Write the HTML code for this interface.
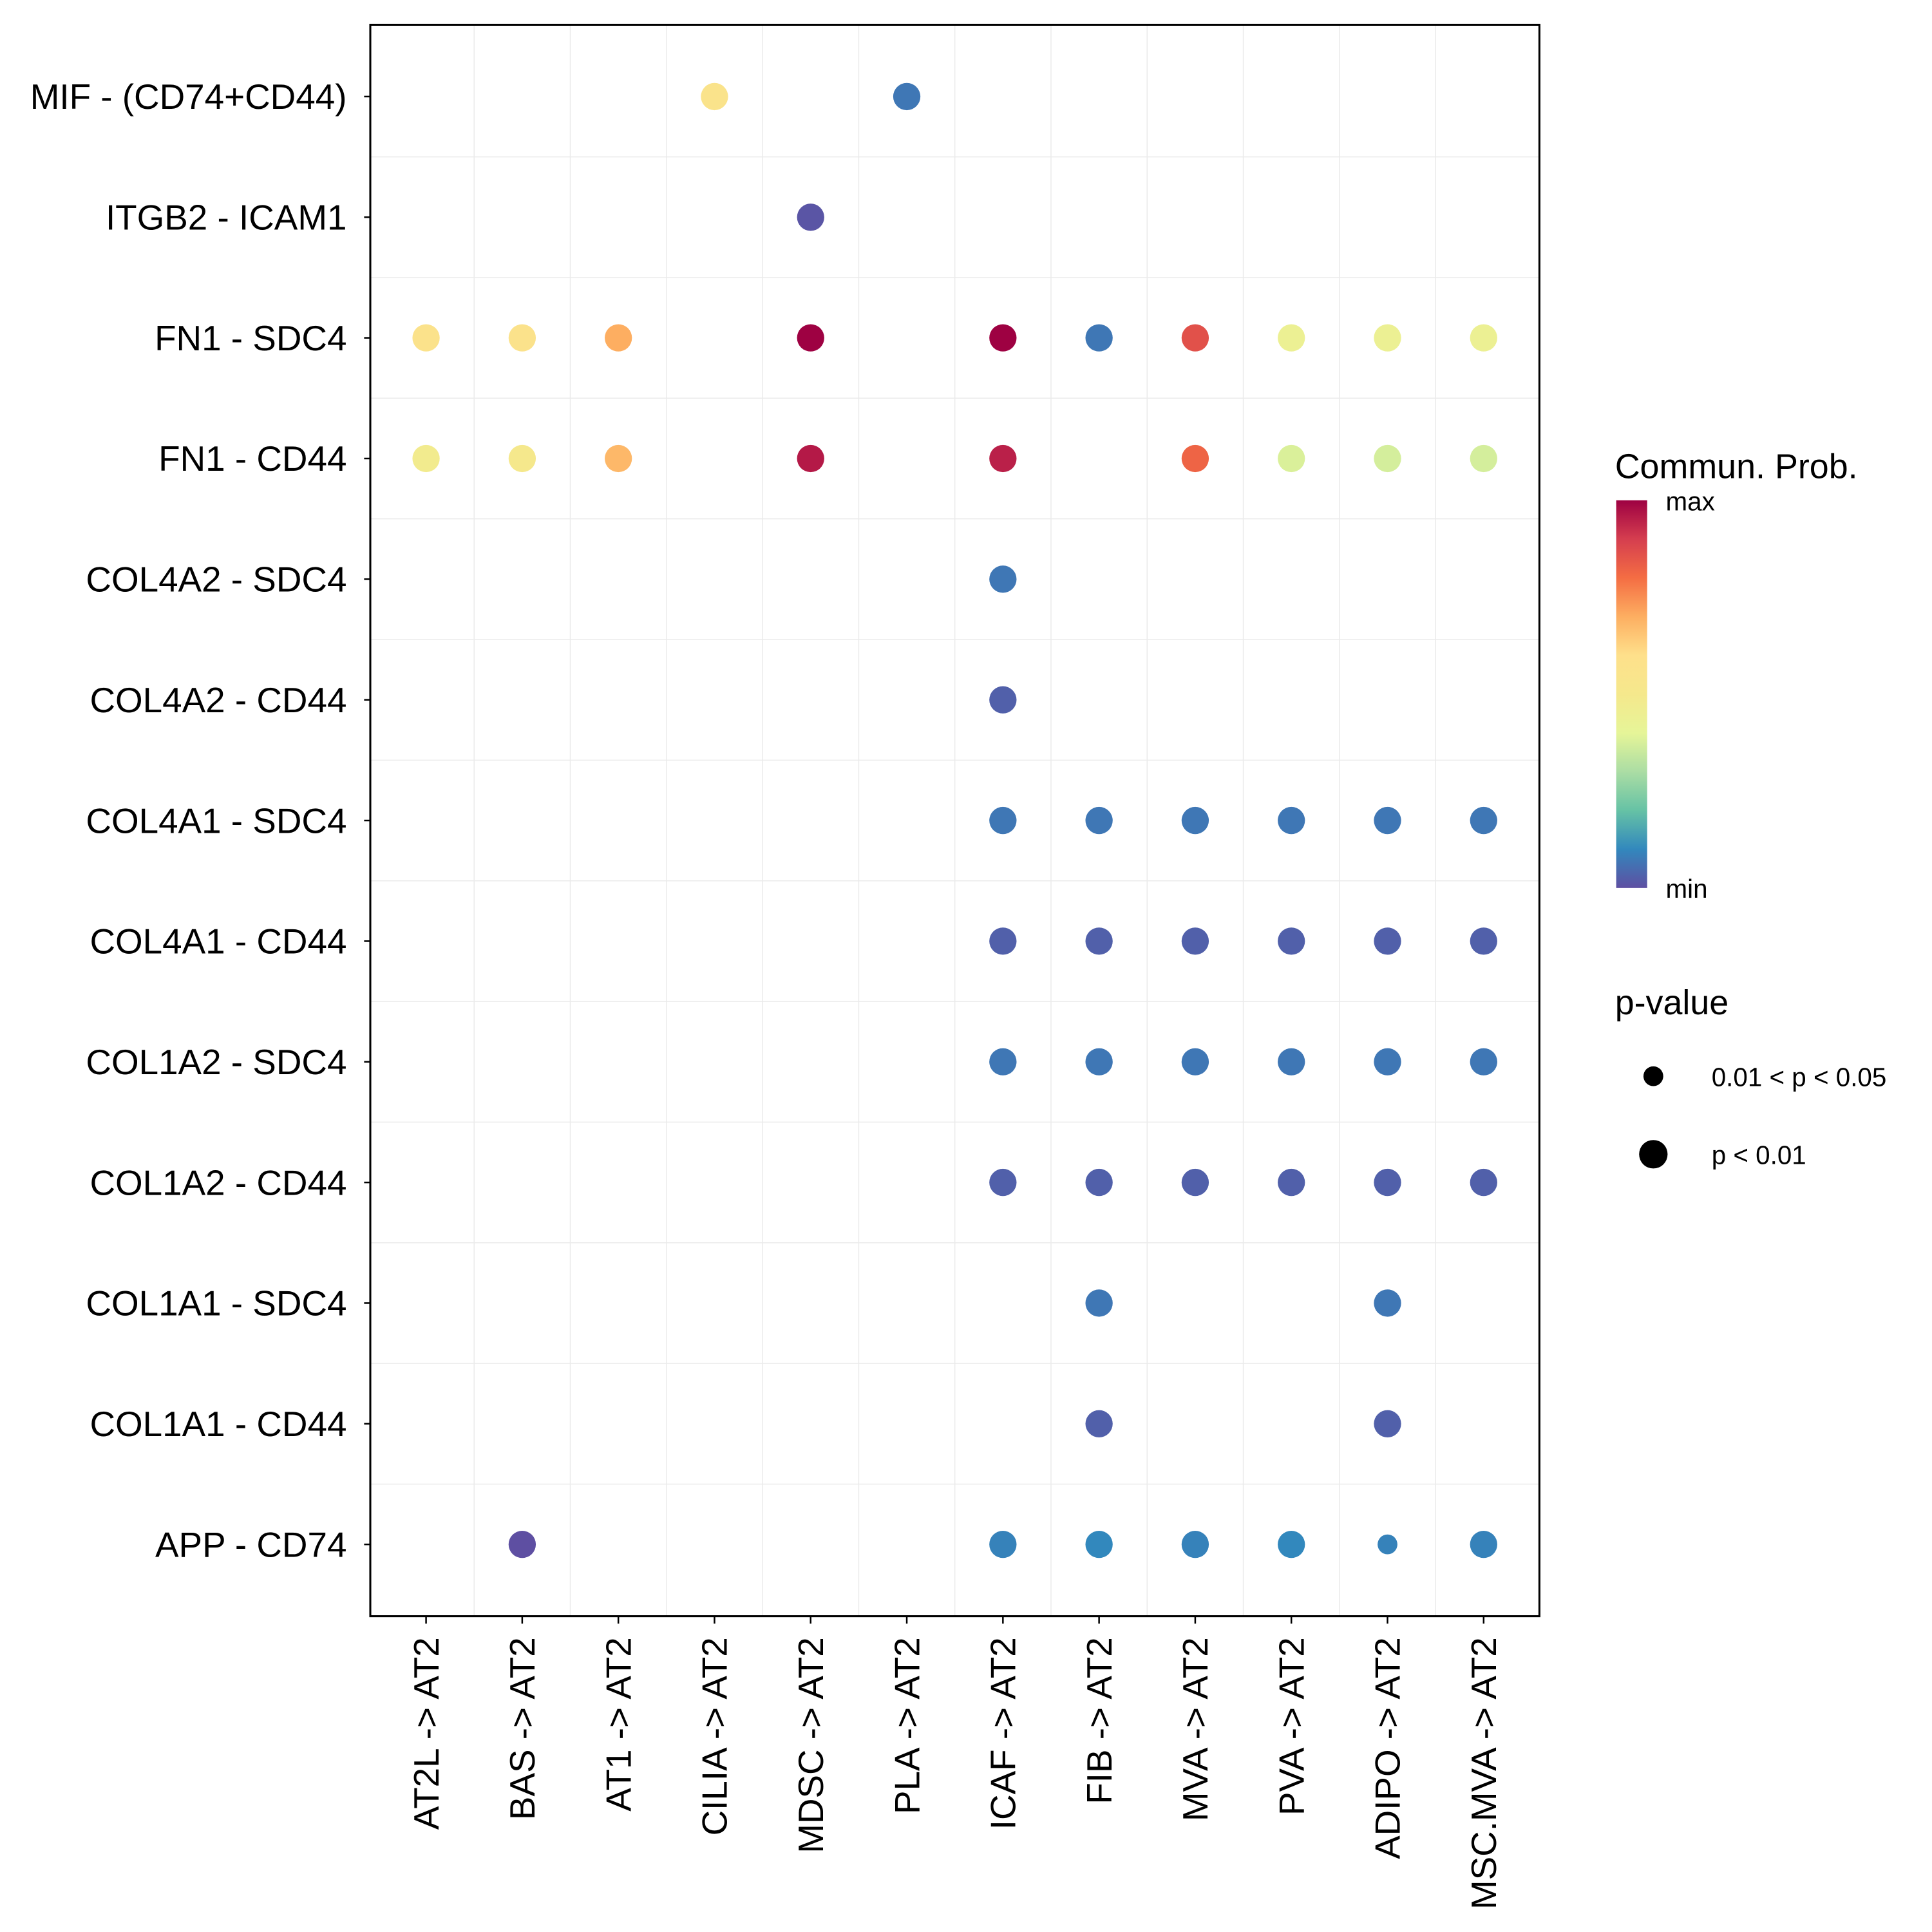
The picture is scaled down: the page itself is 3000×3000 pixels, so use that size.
<!DOCTYPE html>
<html><head><meta charset="utf-8"><style>html,body{margin:0;padding:0;background:#fff}svg{display:block}</style></head>
<body>
<svg id="chart" width="3000" height="3000" viewBox="0 0 1560 1560" xmlns="http://www.w3.org/2000/svg" font-family="Liberation Sans, sans-serif">
<defs><linearGradient id="cg" x1="0" y1="1" x2="0" y2="0">
<stop offset="0" stop-color="#5E4FA2"/><stop offset="0.1" stop-color="#3288BD"/><stop offset="0.2" stop-color="#66C2A5"/><stop offset="0.3" stop-color="#ABDDA4"/><stop offset="0.4" stop-color="#E6F598"/><stop offset="0.5" stop-color="#F5E88C"/><stop offset="0.6" stop-color="#FEE08B"/><stop offset="0.7" stop-color="#FDAE61"/><stop offset="0.8" stop-color="#F46D43"/><stop offset="0.9" stop-color="#D53E4F"/><stop offset="1" stop-color="#9E0142"/></linearGradient></defs>
<g id="grid"></g><g id="marks"></g><g id="axes"></g>
<g id="legend">
<text x="1304" y="386" font-size="28">Commun. Prob.</text>
<rect x="1305" y="404" width="25" height="313" fill="url(#cg)"/>
<text x="1345" y="412" font-size="21">max</text>
<text x="1345" y="725" font-size="21">min</text>
<text x="1304" y="819" font-size="28">p-value</text>
<circle cx="1335" cy="869" r="8" fill="#000"/>
<text x="1382" y="877" font-size="21">0.01 &lt; p &lt; 0.05</text>
<circle cx="1335" cy="932" r="11.5" fill="#000"/>
<text x="1382" y="940" font-size="21">p &lt; 0.01</text>
</g>
</svg>
<script>
const rows = ["MIF - (CD74+CD44)","ITGB2 - ICAM1","FN1 - SDC4","FN1 - CD44","COL4A2 - SDC4","COL4A2 - CD44","COL4A1 - SDC4","COL4A1 - CD44","COL1A2 - SDC4","COL1A2 - CD44","COL1A1 - SDC4","COL1A1 - CD44","APP - CD74"];
const cols = ["AT2L -> AT2","BAS -> AT2","AT1 -> AT2","CILIA -> AT2","MDSC -> AT2","PLA -> AT2","ICAF -> AT2","FIB -> AT2","MVA -> AT2","PVA -> AT2","ADIPO -> AT2","MSC.MVA -> AT2"];
const pointRow = [0,0, 1, 2,2,2,2,2,2,2,2,2,2, 3,3,3,3,3,3,3,3,3, 4,5, 6,6,6,6,6,6, 7,7,7,7,7,7, 8,8,8,8,8,8, 9,9,9,9,9,9, 10,10, 11,11, 12,12,12,12,12,12,12];
const pointCol = [3,5, 4, 0,1,2,4,6,7,8,9,10,11, 0,1,2,4,6,8,9,10,11, 6,6, 6,7,8,9,10,11, 6,7,8,9,10,11, 6,7,8,9,10,11, 6,7,8,9,10,11, 7,10, 7,10, 1,6,7,8,9,10,11];
const pointValue = [0.56,0.07, 0.01, 0.57,0.57,0.7,1.0,1.0,0.07,0.86,0.44,0.44,0.44, 0.48,0.5,0.68,0.96,0.95,0.82,0.38,0.37,0.37, 0.07,0.03, 0.07,0.07,0.07,0.07,0.07,0.07, 0.03,0.03,0.03,0.03,0.03,0.03, 0.07,0.07,0.07,0.07,0.07,0.07, 0.03,0.03,0.03,0.03,0.03,0.03, 0.07,0.07, 0.03,0.03, 0.0,0.09,0.1,0.09,0.1,0.09,0.09];
const pointSig = [1,1, 1, 1,1,1,1,1,1,1,1,1,1, 1,1,1,1,1,1,1,1,1, 1,1, 1,1,1,1,1,1, 1,1,1,1,1,1, 1,1,1,1,1,1, 1,1,1,1,1,1, 1,1, 1,1, 1,1,1,1,1,0,1];

const NS="http://www.w3.org/2000/svg";
const L=299,R=1243,T=20,B=1305;
const xs=i=>L+(R-L)*(i+0.58)/(cols.length-1+1.16);
const ys=j=>T+(B-T)*(j+0.595)/(rows.length-1+1.19);
const pal=["#5E4FA2","#3288BD","#66C2A5","#ABDDA4","#E6F598","#F5E88C","#FEE08B","#FDAE61","#F46D43","#D53E4F","#9E0142"];
function color(v){v=Math.max(0,Math.min(1,v))*10;const i=Math.min(9,Math.floor(v)),f=v-i;
 const a=pal[i],b=pal[i+1];const c=k=>Math.round(parseInt(a.substr(k,2),16)*(1-f)+parseInt(b.substr(k,2),16)*f);
 return `rgb(${c(1)},${c(3)},${c(5)})`;}
function mk(tag,attrs,parent){const e=document.createElementNS(NS,tag);for(const k in attrs)e.setAttribute(k,attrs[k]);parent.appendChild(e);return e;}
const grid=document.getElementById('grid'),marks=document.getElementById('marks'),axes=document.getElementById('axes');
for(let i=0;i<cols.length-1;i++){const x=(xs(i)+xs(i+1))/2;const l=mk('line',{x1:x,x2:x,y1:T,y2:B,stroke:'#ebebeb','stroke-width':0.8},grid);
 
 }
for(let j=0;j<rows.length-1;j++){const y=(ys(j)+ys(j+1))/2;const l=mk('line',{x1:L,x2:R,y1:y,y2:y,stroke:'#ebebeb','stroke-width':0.8},grid);
 
 }
for(let k=0;k<pointRow.length;k++){
 const c=mk('circle',{cx:xs(pointCol[k]),cy:ys(pointRow[k]),r:pointSig[k]?11:8,fill:color(pointValue[k])},marks);
 
 }
const frame=mk('rect',{x:L,y:T,width:R-L,height:B-T,fill:'none',stroke:'#000','stroke-width':1.6},axes);


rows.forEach((r,j)=>{const y=ys(j);
 const t=mk('line',{x1:L-5,x2:L,y1:y,y2:y,stroke:'#000','stroke-width':1.3},axes);
 
 
 const tx=mk('text',{x:L-19,y:y+10,'text-anchor':'end','font-size':28.5},axes);tx.textContent=r;
 
 });
cols.forEach((c,i)=>{const x=xs(i);
 const t=mk('line',{x1:x,x2:x,y1:B,y2:B+6,stroke:'#000','stroke-width':1.3},axes);
 
 
 const tx=mk('text',{x:0,y:0,'text-anchor':'end','font-size':28.5,transform:`translate(${x+10},${B+17}) rotate(-90)`},axes);tx.textContent=c;
 
 });
</script>
</body></html>
